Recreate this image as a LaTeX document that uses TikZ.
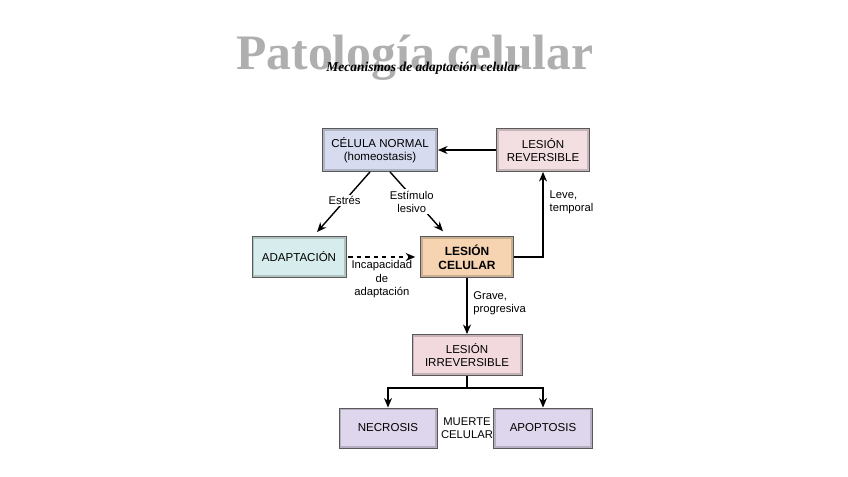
\documentclass[tikz,border=0pt]{standalone}
\usepackage{fontspec}
\setmainfont{Liberation Sans}
\newfontfamily\titlefont{Liberation Serif}
\usepackage{xcolor}
\usetikzlibrary{arrows.meta,positioning}
\definecolor{normalfill}{RGB}{214,219,240}
\definecolor{revfill}{RGB}{243,222,225}
\definecolor{adaptfill}{RGB}{215,236,236}
\definecolor{lesionfill}{RGB}{246,212,178}
\definecolor{irrevfill}{RGB}{241,217,222}
\definecolor{muertefill}{RGB}{222,214,236}
\definecolor{titlegray}{RGB}{175,175,175}
\tikzset{
  celda/.style={rectangle,draw=black!65,fill=#1,line width=0.6pt,align=center,
    inner sep=0pt,font=\fontsize{8.2}{9.5}\selectfont,
    path picture={\draw[#1!82!black,line width=1.3pt]
      ([shift={(0.9pt,-0.9pt)}]path picture bounding box.north west) rectangle
      ([shift={(-0.9pt,0.9pt)}]path picture bounding box.south east);}},
  flecha/.style={-{Stealth[length=2.4mm,width=2mm]},line width=1pt},
  etiqueta/.style={font=\fontsize{8}{9.5}\selectfont,align=center,inner sep=1pt}
}
\begin{document}
\begin{tikzpicture}[x=0.025cm,y=-0.025cm]
  \useasboundingbox[fill=white] (0,0) rectangle (848,477);
  % titulo
  \node[text=titlegray,font=\titlefont\bfseries\fontsize{35.3}{38}\selectfont] (titulo) at (415,58) {Patología celular};
  \node[font=\titlefont\bfseries\itshape\fontsize{9.6}{12}\selectfont] (subtitulo) at (423,68) {Mecanismos de adaptación celular};
  % cajas
  \node[celda=normalfill,minimum width=2.875cm,minimum height=1.075cm] (normal) at (380,150) {CÉLULA NORMAL\\(homeostasis)};
  \node[celda=revfill,minimum width=2.325cm,minimum height=1.075cm] (reversible) at (543,150) {LESIÓN\\REVERSIBLE};
  \node[celda=adaptfill,minimum width=2.35cm,minimum height=1.025cm] (adapt) at (299,257) {ADAPTACIÓN};
  \node[celda=lesionfill,minimum width=2.325cm,minimum height=1.025cm,font=\bfseries\fontsize{8.5}{10}\selectfont] (lesion) at (467,257) {LESIÓN\\CELULAR};
  \node[celda=irrevfill,minimum width=2.75cm,minimum height=1.025cm] (irrev) at (467,355) {LESIÓN\\IRREVERSIBLE};
  \node[celda=muertefill,minimum width=2.45cm,minimum height=1cm] (necro) at (388,428) {NECROSIS};
  \node[celda=muertefill,minimum width=2.475cm,minimum height=1cm] (apop) at (543,428) {APOPTOSIS};
  \node[etiqueta] (muerte) at (467,428) {MUERTE\\CELULAR};
  % conectores
  \draw[flecha] (reversible.west) -- (normal.east);
  \draw[flecha] ([xshift=-0.25cm]normal.south) -- node[etiqueta,fill=white,pos=0.48] {Estrés} ([xshift=0.45cm,yshift=0.1cm]adapt.north);
  \draw[flecha] ([xshift=0.25cm]normal.south) -- node[etiqueta,fill=white,pos=0.5,xshift=-0.12cm] {Estímulo\\lesivo} ([xshift=-0.6cm,yshift=0.12cm]lesion.north);
  \draw[flecha,dashed] ([xshift=0.05cm]adapt.east) -- node[etiqueta,below=1pt] {Incapacidad\\de\\adaptación} ([xshift=-0.12cm]lesion.west);
  \draw[flecha] (lesion.east) -| (reversible.south);
  \node[etiqueta,align=left,anchor=west] (leve) at (548,202) {Leve,\\temporal};
  \draw[flecha] (lesion.south) -- node[etiqueta,right=3pt,align=left,pos=0.45] {Grave,\\progresiva} (irrev.north);
  \draw[line width=1pt] (irrev.south) -- ++(0,12) coordinate (rama);
  \draw[flecha] (rama) -| (necro.north);
  \draw[flecha] (rama) -| (apop.north);
\end{tikzpicture}
\end{document}
